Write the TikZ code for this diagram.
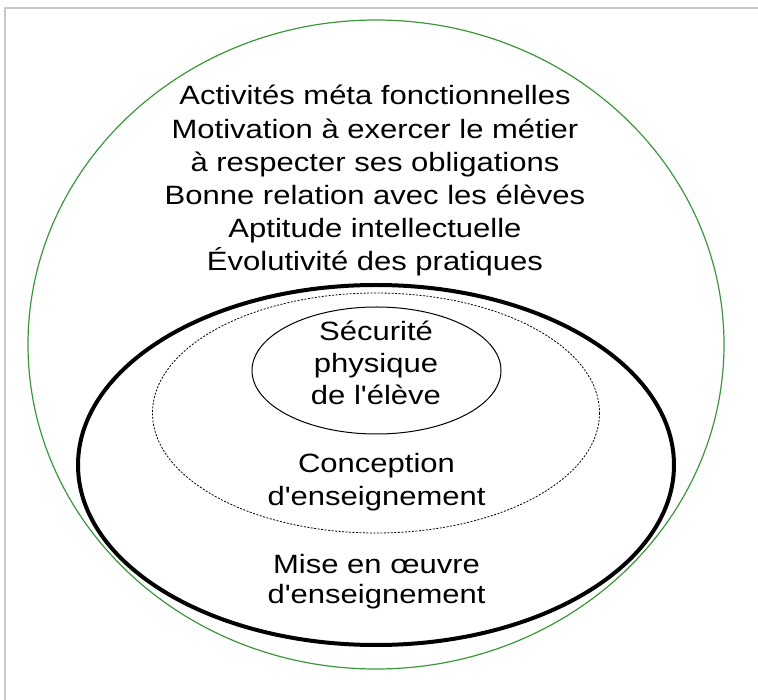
\documentclass[tikz,border=0pt]{standalone}
\usepackage{fontspec}
\setmainfont[FakeStretch=1.17,Ligatures=TeXOff]{Liberation Sans}
\definecolor{ringgreen}{RGB}{60,150,60}
\definecolor{framegray}{RGB}{200,200,200}
\begin{document}
\begin{tikzpicture}[x=1pt,y=-1pt,
  lbl/.style={anchor=base,inner sep=0pt,font=\fontsize{26.5}{33}\selectfont,text=black}]
\useasboundingbox (0,0) rectangle (758,700);
% frame
\draw[framegray,line width=1.5pt] (5,700) -- (5,8) -- (758,8);
% ellipses
\draw[ringgreen,line width=1.2pt] (376,344.5) ellipse [x radius=348,y radius=324.5];
\draw[black,line width=4pt] (376,465) ellipse [x radius=298,y radius=180];
\draw[black,line width=0.8pt,dash pattern=on 2pt off 1.5pt] (376,413) ellipse [x radius=223.5,y radius=120];
\draw[black,line width=1pt] (376.5,370.5) ellipse [x radius=124.5,y radius=63.5];
% outer texts
\node[lbl] (t1) at (375,105) {Activités méta fonctionnelles};
\node[lbl] (t2) at (375,138.2) {Motivation à exercer le métier};
\node[lbl] (t3) at (375,171.4) {à respecter ses obligations};
\node[lbl] (t4) at (375,204.6) {Bonne relation avec les élèves};
\node[lbl] (t5) at (375,237.8) {Aptitude intellectuelle};
\node[lbl] (t6) at (375,271) {Évolutivité des pratiques};
% inner
\node[lbl] (s1) at (376,341) {Sécurité};
\node[lbl] (s2) at (376,373) {physique};
\node[lbl] (s3) at (376,405) {de l'élève};
\node[lbl] (c1) at (376.5,473) {Conception};
\node[lbl] (c2) at (376.5,505) {d'enseignement};
\node[lbl] (m1) at (376.5,573) {Mise en œuvre};
\node[lbl] (m2) at (376.5,603) {d'enseignement};
\end{tikzpicture}
\end{document}
